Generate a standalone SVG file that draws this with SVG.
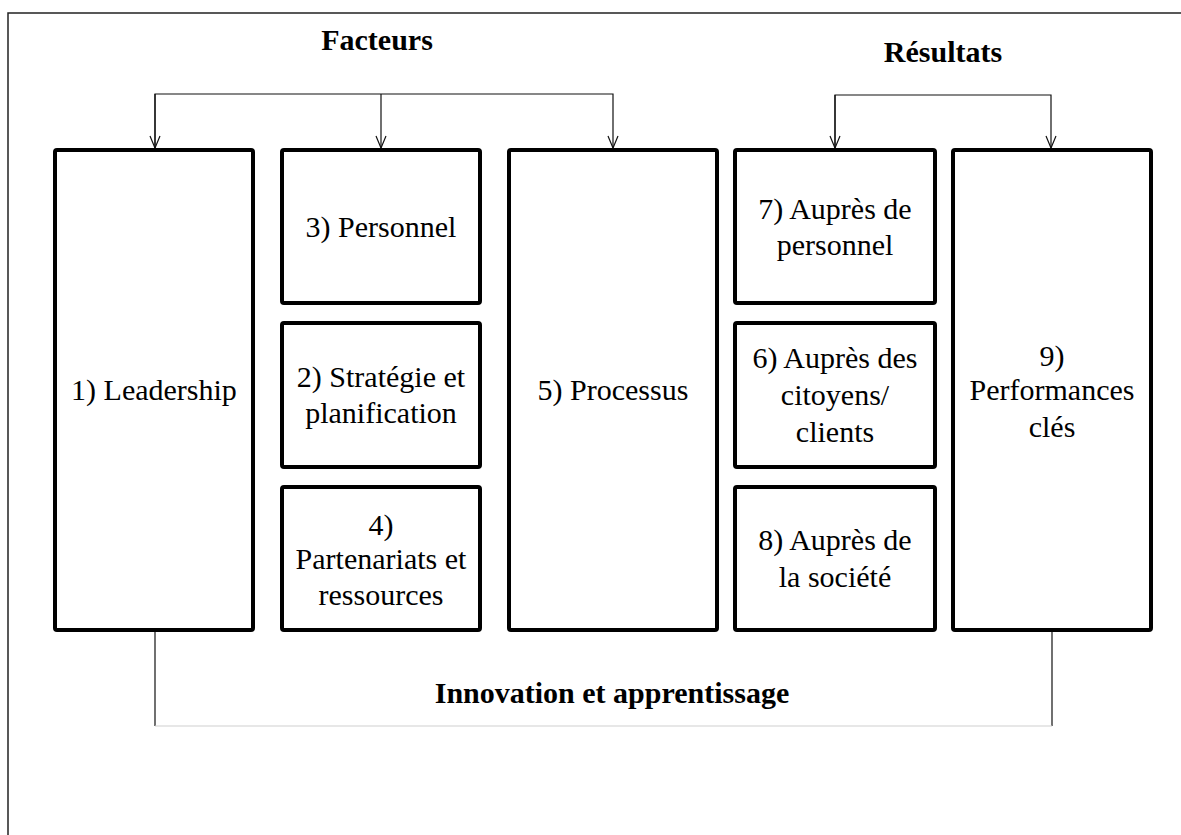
<svg xmlns="http://www.w3.org/2000/svg" width="1181" height="835" viewBox="0 0 1181 835">
<style>
.box{fill:#fff;stroke:#000;stroke-width:4;}
.t{font-family:"Liberation Serif","Times New Roman",serif;font-size:30px;fill:#000;text-anchor:middle;}
.h{font-family:"Liberation Serif","Times New Roman",serif;font-size:30px;font-weight:bold;fill:#000;text-anchor:middle;}
.ln{fill:none;stroke:#111;stroke-width:1.2;}
</style>
<defs>
<marker id="arr" markerWidth="12" markerHeight="14" refX="6" refY="13" orient="0" markerUnits="userSpaceOnUse">
<path d="M1,1 L6,13 L11,1" fill="none" stroke="#111" stroke-width="1.2"/>
</marker>
</defs>
<rect width="1181" height="835" fill="#fff"/>
<g id="frame">
<path d="M8,835 L8,13 L1181,13" fill="none" stroke="#222" stroke-width="1.5"/>
</g>
<g id="headers">
<text class="h" x="377" y="50">Facteurs</text>
<text class="h" x="943" y="62">Résultats</text>
<text class="h" x="612" y="703">Innovation et apprentissage</text>
</g>
<g id="connectors">
<path class="ln" d="M155,148 L155,94 L613,94 L613,148" marker-end="url(#arr)"/>
<path class="ln" d="M155,94 L155,148" marker-end="url(#arr)"/>
<path class="ln" d="M381,94 L381,148" marker-end="url(#arr)"/>
<path class="ln" d="M835,148 L835,95 L1051,95 L1051,148" marker-end="url(#arr)"/>
<path class="ln" d="M835,95 L835,148" marker-end="url(#arr)"/>
<path class="ln" d="M155,632 L155,726"/>
<path class="ln" d="M1052,632 L1052,726"/>
<path d="M155,726 L1052,726" fill="none" stroke="#cfcfcf" stroke-width="1.2"/>
</g>
<g id="n1"><rect class="box" x="55" y="150" width="198" height="480" rx="2"/><text class="t" x="154" y="400">1) Leadership</text></g>
<g id="n3"><rect class="box" x="282" y="150" width="198" height="153" rx="2"/><text class="t" x="381" y="237">3) Personnel</text></g>
<g id="n2"><rect class="box" x="282" y="323" width="198" height="144" rx="2"/><text class="t" x="381" y="387">2) Stratégie et</text><text class="t" x="381" y="423">planification</text></g>
<g id="n4"><rect class="box" x="282" y="487" width="198" height="143" rx="2"/><text class="t" x="381" y="535">4)</text><text class="t" x="381" y="569">Partenariats et</text><text class="t" x="381" y="605">ressources</text></g>
<g id="n5"><rect class="box" x="509" y="150" width="208" height="480" rx="2"/><text class="t" x="613" y="400">5) Processus</text></g>
<g id="n7"><rect class="box" x="735" y="150" width="200" height="153" rx="2"/><text class="t" x="835" y="219">7) Auprès de</text><text class="t" x="835" y="255">personnel</text></g>
<g id="n6"><rect class="box" x="735" y="323" width="200" height="144" rx="2"/><text class="t" x="835" y="368">6) Auprès des</text><text class="t" x="835" y="405">citoyens/</text><text class="t" x="835" y="442">clients</text></g>
<g id="n8"><rect class="box" x="735" y="487" width="200" height="143" rx="2"/><text class="t" x="835" y="550">8) Auprès de</text><text class="t" x="835" y="587">la société</text></g>
<g id="n9"><rect class="box" x="953" y="150" width="198" height="480" rx="2"/><text class="t" x="1052" y="366">9)</text><text class="t" x="1052" y="400">Performances</text><text class="t" x="1052" y="437">clés</text></g>
</svg>
